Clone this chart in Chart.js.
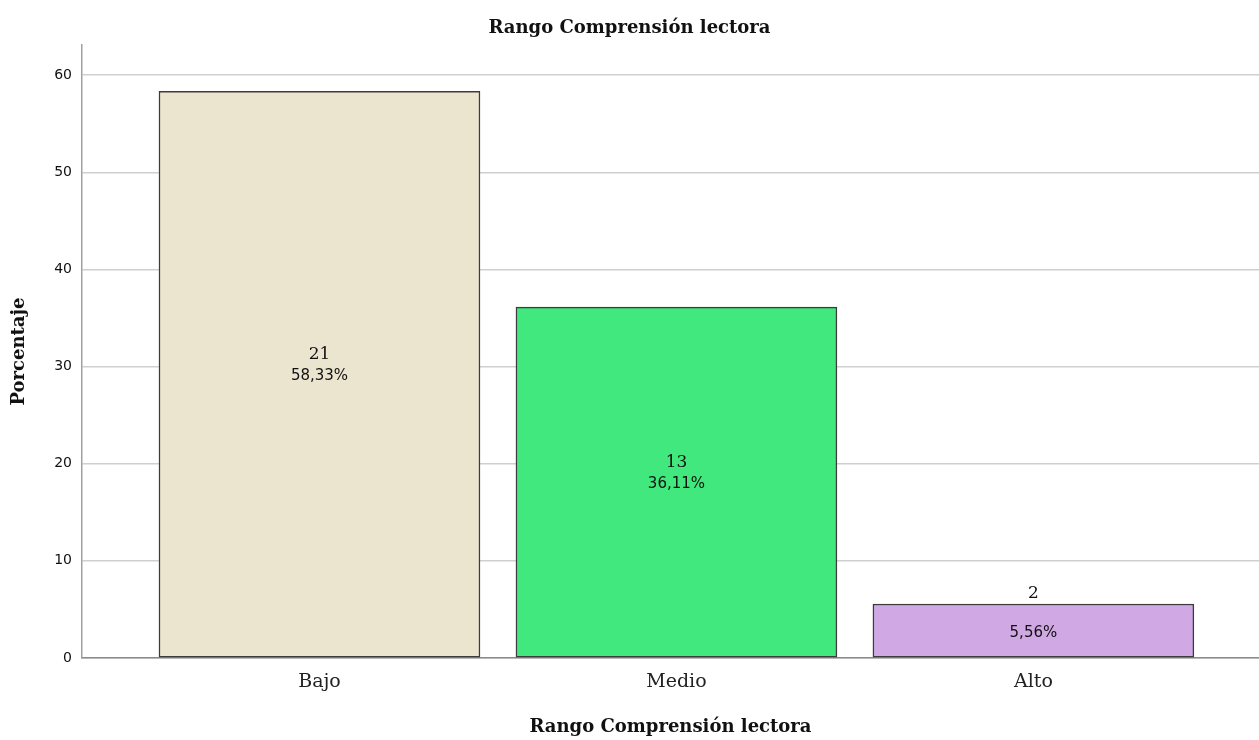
<!DOCTYPE html>
<html>
<head>
<meta charset="utf-8">
<script src="https://cdn.jsdelivr.net/npm/chart.js@4/dist/chart.umd.min.js"></script>
<style>
  html, body { margin: 0; padding: 0; background: #fff; }
  #chart { display: block; }
</style>
</head>
<body>
<canvas id="chart" width="1259" height="740"></canvas>
<script>
// data
const categories = ['Bajo', 'Medio', 'Alto'];
const percents = [58.33, 36.11, 5.56];
const counts = [21, 13, 2];
const yTicks = [0, 10, 20, 30, 40, 50, 60];
const barColors = ['#ebe4cf', '#40e87d', '#d0a8e3'];

const serif = '"DejaVu Serif"';

function fmtPct(v) {
    return v.toFixed(2).replace('.', ',') + '%';
}

// writes the count and the percentage on each bar
const barLabels = {
    id: 'barLabels',
    afterDatasetsDraw(chart) {
        const ctx = chart.ctx;
        const meta = chart.getDatasetMeta(0);
        ctx.save();
        ctx.textAlign = 'center';
        ctx.textBaseline = 'middle';
        ctx.fillStyle = '#111';
        meta.data.forEach(function(bar, i) {
            let mid = (bar.y + bar.base) / 2;
            let h = bar.base - bar.y;
            ctx.font = '17px ' + serif;
            if (h < 60) {
                ctx.fillText(counts[i], bar.x, bar.y - 10);
            } else {
                ctx.fillText(counts[i], bar.x, mid - 20);
            }
            ctx.font = '15px "DejaVu Sans"';
            ctx.fillText(fmtPct(percents[i]), bar.x, mid + 2);
        });
        ctx.restore();
    }
};

const points = categories.map(function(c, i) { return { x: i, y: percents[i] }; });

new Chart(document.getElementById('chart'), {
    type: 'bar',
    data: {
        datasets: [{
            data: points,
            backgroundColor: barColors,
            borderColor: '#3c3c3c',
            borderWidth: 1.5,
            borderSkipped: false,
            barThickness: 321
        }]
    },
    options: {
        responsive: false,
        animation: false,
        devicePixelRatio: 1,
        layout: { padding: 0 },
        plugins: {
            legend: { display: false },
            tooltip: { enabled: false },
            title: {
                display: true,
                text: 'Rango Comprensión lectora',
                color: '#111',
                font: { family: serif, size: 18, weight: 'bold' },
                padding: { top: 17.2, bottom: 6.2 }
            }
        },
        scales: {
            x: {
                type: 'linear',
                offset: false,
                min: -0.6653,
                max: 2.632,
                afterBuildTicks: function(scale) {
                    scale.ticks = categories.map(function(c, i) { return { value: i }; });
                },
                afterFit: function(scale) { scale.height = 82; },
                grid: { display: false, drawTicks: false, offset: false },
                border: { display: true, color: '#8a8a8a', width: 1.5 },
                ticks: {
                    autoSkip: false,
                    maxRotation: 0,
                    padding: 13,
                    color: '#222',
                    font: { family: serif, size: 19 },
                    callback: function(v) { return categories[v]; }
                },
                title: {
                    display: true,
                    text: 'Rango Comprensión lectora',
                    color: '#111',
                    font: { family: serif, size: 18, weight: 'bold' },
                    padding: 2
                }
            },
            y: {
                min: 0,
                max: 63.1,
                afterBuildTicks: function(scale) {
                    scale.ticks = yTicks.map(function(v) { return { value: v }; });
                },
                afterFit: function(scale) { scale.width = 82; },
                grid: { color: '#cfcfcf', lineWidth: 1.5, drawTicks: false },
                border: { display: true, color: '#a0a0a0', width: 1.5 },
                ticks: {
                    padding: 10,
                    color: '#111',
                    font: { family: '"DejaVu Sans"', size: 14 }
                },
                title: {
                    display: true,
                    text: 'Porcentaje',
                    color: '#111',
                    font: { family: serif, size: 18, weight: 'bold' },
                    padding: 9
                }
            }
        }
    },
    plugins: [barLabels]
});
</script>
</body>
</html>
